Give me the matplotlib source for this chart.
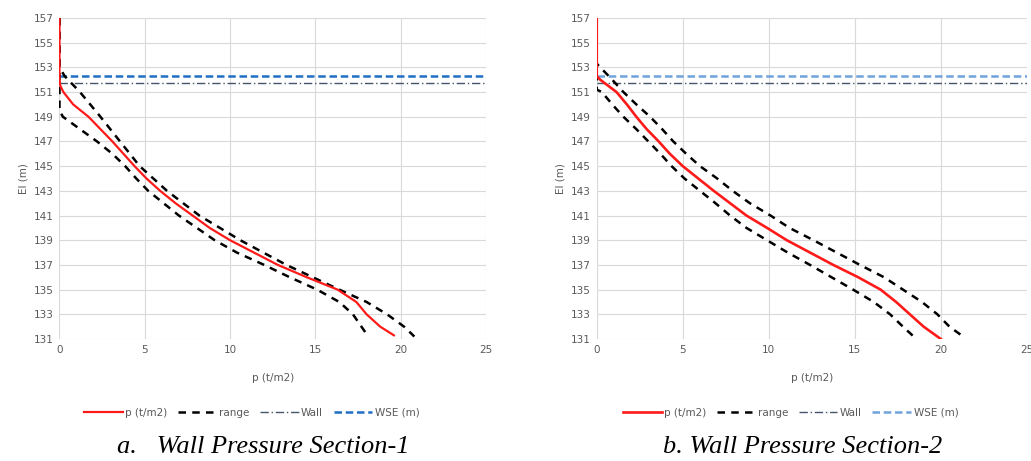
import numpy as np
import matplotlib.pyplot as plt

# Section-1 data (elevation vs pressure)
el_p1 = [157, 152, 151.5, 151, 150, 149, 148, 147, 146, 145, 144, 143, 142, 141, 140, 139,
         138, 137, 136, 135, 134, 133, 132, 131.3]
p1 = [0, 0, 0.05, 0.23, 0.8, 1.7, 2.4, 3.1, 3.75, 4.4, 5.1, 5.9, 6.8, 7.8, 8.8, 10.0,
      11.4, 12.8, 14.5, 16.3, 17.4, 18.0, 18.8, 19.6]
el_hi1 = [157, 153, 152.3, 151, 149, 147, 145, 143, 141, 139, 137, 135, 134, 133, 132, 131.2]
hi1 = [0, 0, 0.3, 1.2, 2.4, 3.55, 4.7, 6.3, 8.2, 10.6, 13.3, 16.4, 18.0, 19.2, 20.2, 20.8]
el_lo1 = [157, 149.5, 149, 148, 147, 146, 145, 144, 143, 142, 141, 140, 139, 138, 137, 136,
          135, 134, 133, 132, 131.2]
lo1 = [0, 0, 0.2, 1.2, 2.2, 3.1, 3.85, 4.5, 5.2, 6.1, 7.0, 8.05, 9.1, 10.4, 12.0, 13.5,
       15.1, 16.4, 17.2, 17.7, 18.1]
wall1 = 151.7
wse1 = 152.3

# Section-2 data
el_p2 = [157, 152.3, 152, 151, 150, 149, 148, 147, 146, 145, 144, 143, 142, 141, 140, 139,
         138, 137, 136, 135, 134, 133, 132, 131]
p2 = [0, 0, 0.2, 1.15, 1.75, 2.3, 2.9, 3.6, 4.25, 5.0, 5.9, 6.8, 7.75, 8.7, 9.9, 11.05,
      12.4, 13.75, 15.2, 16.5, 17.4, 18.2, 19.0, 20.0]
el_hi2 = [157, 153.3, 152, 151, 150, 149, 148, 147, 146, 145, 144, 143, 142, 141, 140, 139,
          138, 137, 136, 135, 134, 133, 132, 131.1]
hi2 = [0, 0, 0.9, 1.55, 2.3, 3.1, 3.8, 4.45, 5.2, 6.0, 7.0, 7.9, 8.9, 10.1, 11.2, 12.6,
       13.95, 15.3, 16.7, 17.8, 18.9, 19.8, 20.5, 21.4]
el_lo2 = [157, 151.2, 151, 150, 149, 148, 147, 146, 145, 144, 143, 142, 141, 140, 139, 138,
          137, 136, 135, 134, 133, 132, 131.1]
lo2 = [0, 0, 0.3, 0.9, 1.55, 2.3, 3.0, 3.7, 4.35, 5.1, 6.0, 6.9, 7.75, 8.7, 9.9, 11.1,
       12.4, 13.65, 14.9, 16.1, 17.05, 17.8, 18.5]
wall2 = 151.7
wse2 = 152.3

xticks = [0, 5, 10, 15, 20, 25]
yticks = list(range(131, 158, 2))
captions = ['a.   Wall Pressure Section-1', 'b. Wall Pressure Section-2']

fig = plt.figure(figsize=(10.31, 4.61), dpi=100)
ax1 = fig.add_axes([0.0577, 0.2646, 0.4137, 0.6964])
ax2 = fig.add_axes([0.5788, 0.2646, 0.4172, 0.6964])

sections = [
    (ax1, p1, el_p1, hi1, el_hi1, lo1, el_lo1, wall1, wse1, '#1f6fc4', 1.6, 0.135),
    (ax2, p2, el_p2, hi2, el_hi2, lo2, el_lo2, wall2, wse2, '#6fa3dc', 1.9, 0.154),
]

for i, (ax, p, ep, hi, eh, lo, el, wall, wse, wse_col, lw, cap_x) in enumerate(sections):
    ax.axhline(wse, color=wse_col, linestyle=(0, (3, 1.5)), linewidth=1.8, label='WSE (m)', zorder=2)
    ax.axhline(wall, color='#44546a', linestyle=(0, (6, 2, 1, 2)), linewidth=1.0, label='Wall', zorder=2)
    ax.plot(hi, eh, color='black', linestyle=(0, (3, 2.5)), linewidth=1.8, label='range', zorder=3)
    ax.plot(lo, el, color='black', linestyle=(0, (3, 2.5)), linewidth=1.8, zorder=3)
    ax.plot(p, ep, color='#ff1a1a', linewidth=lw, label='p (t/m2)', zorder=4)
    ax.set_xlim(0, 25)
    ax.set_ylim(131, 157)
    ax.set_xticks(xticks)
    ax.set_yticks(yticks)
    ax.grid(color='#d9d9d9', linewidth=0.8)
    ax.set_axisbelow(True)
    for s in ax.spines.values():
        s.set_visible(False)
    ax.tick_params(length=0, labelsize=7.5, colors='#595959', pad=4)
    ax.set_xlabel('p (t/m2)', fontsize=7.5, color='#595959', labelpad=13)
    ax.set_ylabel('El (m)', fontsize=7.5, color='#595959', labelpad=4)
    h, l = ax.get_legend_handles_labels()
    order = [3, 2, 1, 0]
    ax.legend([h[k] for k in order], [l[k] for k in order], loc='center',
              bbox_to_anchor=(0.451, -0.23), ncol=4, frameon=False, fontsize=7.5,
              labelcolor='#595959', handlelength=3.7, handletextpad=0.25, columnspacing=1.0)
    ax.text(cap_x, -0.335, captions[i], transform=ax.transAxes,
            fontsize=19, style='italic', family='Liberation Serif', va='center', ha='left')

fig.savefig('out.png', dpi=100)
